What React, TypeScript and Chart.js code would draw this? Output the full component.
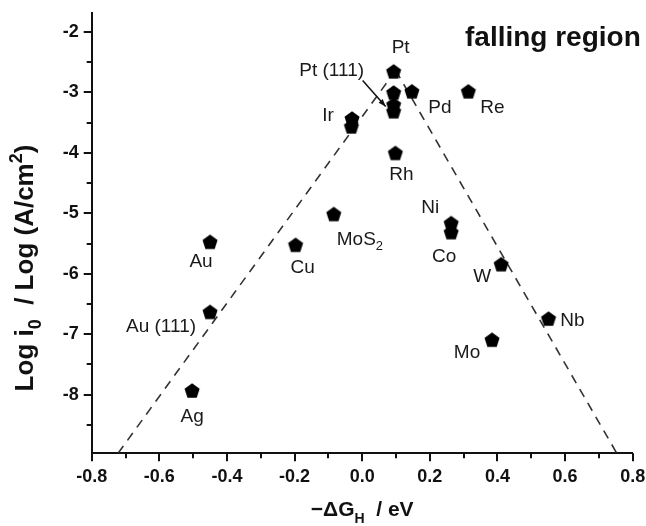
import React, { useEffect, useRef } from "react";
import { Chart, registerables } from "chart.js";

Chart.register(...registerables);

// ---- data ----
const materials = ["Pt", "Pt", "Pt (111)", "Pt", "Pd", "Re", "Ir", "Ir", "Rh", "Ni", "Co", "MoS2", "Cu", "Au", "W", "Au (111)", "Nb", "Mo", "Ag"];
const deltaGH = [0.093, 0.093, 0.093, 0.093, 0.147, 0.314, -0.03, -0.032, 0.098, 0.263, 0.263, -0.084, -0.197, -0.45, 0.411, -0.45, 0.551, 0.384, -0.503];
const logI0 = [-2.65, -3.0, -3.2, -3.31, -2.98, -2.98, -3.43, -3.56, -4.0, -5.16, -5.31, -5.01, -5.52, -5.47, -5.84, -6.63, -6.74, -7.09, -7.93];

const volcanoLeftX = [-0.722, 0.099];
const volcanoLeftY = [-8.97, -2.635];
const volcanoRightX = [0.099, 0.753];
const volcanoRightY = [-2.635, -8.97];

const xMajorTicks = [-0.8, -0.6, -0.4, -0.2, 0.0, 0.2, 0.4, 0.6, 0.8];
const xMinorTicks = [-0.7, -0.5, -0.3, -0.1, 0.1, 0.3, 0.5, 0.7];
const yMajorTicks = [-8, -7, -6, -5, -4, -3, -2];
const yMinorTicks = [-8.5, -7.5, -6.5, -5.5, -4.5, -3.5, -2.5];

// ---- label layout (pixel offsets from the marker) ----
type Part = { t: string; s?: "sub" | "sup" };
const labelLayout: { idx: number; parts: Part[]; dx: number; dy: number; align: "center" | "left" }[] = [
  { idx: 0, parts: [{ t: "Pt" }], dx: 7, dy: -24, align: "center" },
  { idx: 2, parts: [{ t: "Pt (111)" }], dx: -62, dy: -34, align: "center" },
  { idx: 4, parts: [{ t: "Pd" }], dx: 28, dy: 16, align: "center" },
  { idx: 5, parts: [{ t: "Re" }], dx: 24, dy: 16, align: "center" },
  { idx: 6, parts: [{ t: "Ir" }], dx: -24, dy: -3, align: "center" },
  { idx: 8, parts: [{ t: "Rh" }], dx: 6, dy: 22, align: "center" },
  { idx: 9, parts: [{ t: "Ni" }], dx: -21, dy: -15, align: "center" },
  { idx: 10, parts: [{ t: "Co" }], dx: -7, dy: 25, align: "center" },
  { idx: 11, parts: [{ t: "MoS" }, { t: "2", s: "sub" }], dx: 3, dy: 26, align: "left" },
  { idx: 12, parts: [{ t: "Cu" }], dx: 7, dy: 23, align: "center" },
  { idx: 13, parts: [{ t: "Au" }], dx: -9, dy: 20, align: "center" },
  { idx: 14, parts: [{ t: "W" }], dx: -19, dy: 13, align: "center" },
  { idx: 15, parts: [{ t: "Au (111)" }], dx: -49, dy: 15, align: "center" },
  { idx: 16, parts: [{ t: "Nb" }], dx: 24, dy: 2, align: "center" },
  { idx: 17, parts: [{ t: "Mo" }], dx: -25, dy: 13, align: "center" },
  { idx: 18, parts: [{ t: "Ag" }], dx: 0, dy: 26, align: "center" },
];

const FONT = '"Liberation Sans", Arial, Helvetica, sans-serif';

function drawRich(ctx: CanvasRenderingContext2D, parts: Part[], x: number, y: number, size: number, weight: string, align: "center" | "left") {
  const small = Math.round(size * 0.68);
  const fontFor = (p: Part) => `${weight} ${p.s ? small : size}px ${FONT}`;
  let w = 0;
  parts.forEach((p) => {
    ctx.font = fontFor(p);
    w += ctx.measureText(p.t).width;
  });
  let cx = align === "center" ? x - w / 2 : x;
  ctx.textAlign = "left";
  parts.forEach((p) => {
    ctx.font = fontFor(p);
    const dy = p.s === "sub" ? size * 0.32 : p.s === "sup" ? -size * 0.42 : 0;
    ctx.fillText(p.t, cx, y + dy);
    cx += ctx.measureText(p.t).width;
  });
}

function makePentagon(R: number, color: string): HTMLCanvasElement {
  const c = document.createElement("canvas");
  const w = Math.ceil(2 * R * Math.sin((72 * Math.PI) / 180)) + 2;
  const h = Math.ceil(R * (1 + Math.cos(Math.PI / 5))) + 2;
  c.width = w;
  c.height = h;
  const g = c.getContext("2d")!;
  const cx = w / 2;
  const cy = h / 2 + (R - R * Math.cos(Math.PI / 5)) / 2;
  g.beginPath();
  for (let i = 0; i < 5; i++) {
    const a = -Math.PI / 2 + (i * 2 * Math.PI) / 5;
    const px = cx + R * Math.cos(a);
    const py = cy + R * Math.sin(a);
    if (i === 0) g.moveTo(px, py);
    else g.lineTo(px, py);
  }
  g.closePath();
  g.fillStyle = color;
  g.fill();
  return c;
}

const decorPlugin = {
  id: "decor",
  afterDraw(chart: any) {
    const { ctx, chartArea } = chart;
    const xs = chart.scales.x;
    const ys = chart.scales.y;
    ctx.save();
    // tick marks
    ctx.strokeStyle = "#111";
    ctx.lineWidth = 2;
    const tick = (x1: number, y1: number, x2: number, y2: number) => {
      ctx.beginPath();
      ctx.moveTo(x1, y1);
      ctx.lineTo(x2, y2);
      ctx.stroke();
    };
    const b = chartArea.bottom;
    const l = chartArea.left;
    xMajorTicks.forEach((v) => { const p = Math.round(xs.getPixelForValue(v)); tick(p, b, p, b + 8); });
    xMinorTicks.forEach((v) => { const p = Math.round(xs.getPixelForValue(v)); tick(p, b, p, b + 5); });
    yMajorTicks.forEach((v) => { const p = Math.round(ys.getPixelForValue(v)); tick(l, p, l - 8, p); });
    yMinorTicks.forEach((v) => { const p = Math.round(ys.getPixelForValue(v)); tick(l, p, l - 5, p); });

    // point labels
    ctx.fillStyle = "#1a1a1a";
    ctx.textBaseline = "middle";
    labelLayout.forEach((lb) => {
      const px = xs.getPixelForValue(deltaGH[lb.idx]);
      const py = ys.getPixelForValue(logI0[lb.idx]);
      drawRich(ctx, lb.parts, px + lb.dx, py + lb.dy, 19, "normal", lb.align);
    });

    // arrow for Pt (111)
    {
      const px = xs.getPixelForValue(deltaGH[2]);
      const py = ys.getPixelForValue(logI0[2]);
      const sx = px - 31, sy = py - 24, ex = px - 8, ey = py + 2;
      ctx.strokeStyle = "#111";
      ctx.lineWidth = 1.5;
      ctx.beginPath();
      ctx.moveTo(sx, sy);
      ctx.lineTo(ex, ey);
      ctx.stroke();
      const ang = Math.atan2(ey - sy, ex - sx);
      ctx.beginPath();
      ctx.moveTo(ex, ey);
      ctx.lineTo(ex - 8 * Math.cos(ang - 0.35), ey - 8 * Math.sin(ang - 0.35));
      ctx.lineTo(ex - 8 * Math.cos(ang + 0.35), ey - 8 * Math.sin(ang + 0.35));
      ctx.closePath();
      ctx.fillStyle = "#111";
      ctx.fill();
    }

    // region text
    ctx.fillStyle = "#111";
    ctx.textBaseline = "middle";
    ctx.textAlign = "left";
    ctx.font = `bold 28px ${FONT}`;
    ctx.fillText("falling region", 465, 38);

    // axis titles
    ctx.textBaseline = "alphabetic";
    drawRich(ctx, [{ t: "\u2212\u0394G" }, { t: "H", s: "sub" }, { t: "  / eV" }], (chartArea.left + chartArea.right) / 2, 516, 21, "bold", "center");

    ctx.save();
    ctx.translate(33, 268);
    ctx.rotate(-Math.PI / 2);
    drawRich(ctx, [{ t: "Log i" }, { t: "0", s: "sub" }, { t: "  / Log (A/cm" }, { t: "2", s: "sup" }, { t: ")" }], 0, 0, 26, "bold", "center");
    ctx.restore();

    ctx.restore();
  },
};

export default function App() {
  const ref = useRef<HTMLCanvasElement>(null);
  useEffect(() => {
    if (!ref.current) return;
    const pent = makePentagon(7.9, "#000");
    const points = deltaGH.map((x, i) => ({ x, y: logI0[i] }));
    const left = volcanoLeftX.map((x, i) => ({ x, y: volcanoLeftY[i] }));
    const right = volcanoRightX.map((x, i) => ({ x, y: volcanoRightY[i] }));
    const lineStyle = {
      type: "line" as const,
      borderColor: "#333",
      borderWidth: 1.6,
      borderDash: [9, 7],
      pointRadius: 0,
      fill: false,
      tension: 0,
      order: 2,
    };
    const chart = new Chart(ref.current, {
      type: "scatter",
      data: {
        datasets: [
          { ...lineStyle, label: "left", data: left } as any,
          { ...lineStyle, label: "right", data: right } as any,
          {
            label: "materials",
            data: points,
            pointStyle: pent,
            pointRadius: 8,
            backgroundColor: "#000",
            borderColor: "#000",
            order: 1,
          } as any,
        ],
      },
      options: {
        responsive: false,
        animation: false,
        layout: { autoPadding: false, padding: { left: 0, top: 12.7, right: 13.3, bottom: 0 } },
        plugins: { legend: { display: false }, tooltip: { enabled: false } },
        scales: {
          x: {
            type: "linear",
            min: -0.8,
            max: 0.8,
            grid: { display: false },
            border: { display: true, color: "#111", width: 2 },
            afterFit: (s: any) => { s.height = 72.7; s.paddingLeft = 0; s.paddingRight = 0; },
            afterBuildTicks: (s: any) => { s.ticks = xMajorTicks.map((v) => ({ value: v })); },
            ticks: {
              padding: 5,
              color: "#111",
              font: { family: FONT, size: 18, weight: "bold" },
              callback: (v: any) => Number(v).toFixed(1),
            },
          },
          y: {
            type: "linear",
            min: -8.97,
            max: -1.68,
            grid: { display: false },
            border: { display: true, color: "#111", width: 2 },
            afterFit: (s: any) => { s.width = 91.7; s.paddingTop = 0; s.paddingBottom = 0; },
            afterBuildTicks: (s: any) => { s.ticks = yMajorTicks.map((v) => ({ value: v })); },
            ticks: {
              padding: 5,
              color: "#111",
              font: { family: FONT, size: 18, weight: "bold" },
              callback: (v: any) => String(Math.round(Number(v))),
            },
          },
        },
      },
      plugins: [decorPlugin],
    });
    return () => chart.destroy();
  }, []);
  return (
    <div style={{ position: "fixed", left: 0, top: 0, width: 646, height: 526, background: "#fff" }}>
      <canvas ref={ref} width={646} height={526} style={{ display: "block" }} />
    </div>
  );
}
